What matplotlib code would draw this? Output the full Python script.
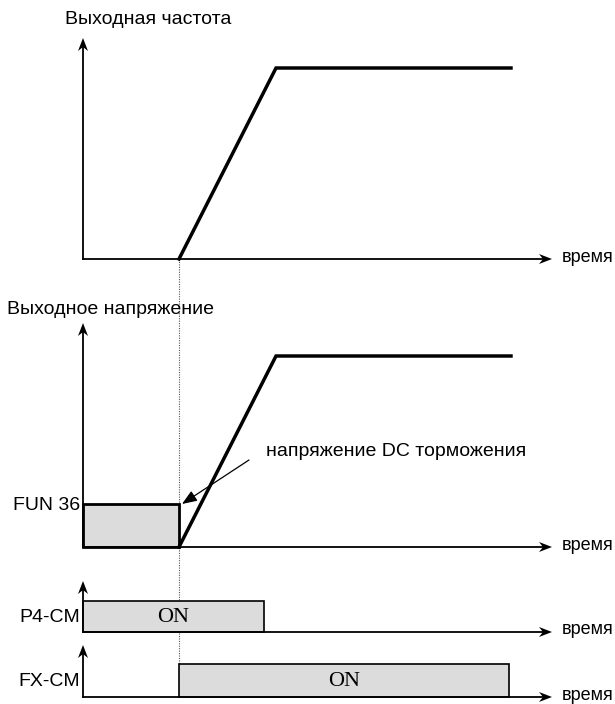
import matplotlib.pyplot as plt
from matplotlib.patches import Rectangle, Polygon

plt.rcParams['font.family'] = ['Liberation Sans', 'DejaVu Sans']

# time marks along every time axis
t_origin = 83
t_run = 179        # end of DC braking, start of acceleration
t_ramp_end = 276
t_stop = 511
t_p4_off = 264
t_fx_off = 509
t_axis_end = 552

# baselines and levels of the four traces
freq_base, freq_top, freq_axis_top = 259, 68, 38
volt_base, volt_top, volt_dc, volt_axis_top = 547, 356, 504, 323
p4_base, p4_high, p4_axis_top = 632, 601, 581
fx_base, fx_high, fx_axis_top = 697, 664, 645

titles = ['Выходная частота', 'Выходное напряжение']
title_pos = [(65, 20), (7, 310)]
signal_labels = ['FUN 36', 'P4-CM', 'FX-CM']
signal_label_y = [505, 617, 681]
time_label = 'время'
dc_note = 'напряжение DC торможения'
fill_gray = '#dcdcdc'

fig = plt.figure(figsize=(6.15, 7.04), dpi=100)
ax = fig.add_axes([0, 0, 1, 1])
ax.set_xlim(0, 615)
ax.set_ylim(704, 0)
ax.axis('off')


def head(x, y, direction, length=13, half=5, notch=4):
    # filled notched arrow head pointing right ('r') or up ('u')
    if direction == 'r':
        pts = [(x, y), (x - length, y - half), (x - length + notch, y), (x - length, y + half)]
    else:
        pts = [(x, y), (x - half, y + length), (x, y + length - notch), (x + half, y + length)]
    ax.add_patch(Polygon(pts, closed=True, color='black', lw=0, zorder=5))


def axes_pair(base, top):
    ax.plot([t_origin, t_origin], [base, top + 8], color='black', lw=1.3, zorder=4)
    head(t_origin, top, 'u')
    ax.plot([t_origin, t_axis_end - 8], [base, base], color='black', lw=1.3, zorder=4)
    head(t_axis_end, base, 'r')
    ax.text(t_axis_end + 10, base - 2, time_label, fontsize=13, ha='left', va='center')


# output frequency
axes_pair(freq_base, freq_axis_top)
ax.plot([t_run, t_ramp_end, t_stop], [freq_base, freq_top, freq_top],
        color='black', lw=2.5, solid_joinstyle='miter', zorder=4)

# output voltage with DC braking block
axes_pair(volt_base, volt_axis_top)
ax.add_patch(Rectangle((t_origin, volt_dc), t_run - t_origin, volt_base - volt_dc,
                       facecolor=fill_gray, edgecolor='black', lw=2, zorder=3))
ax.plot([t_run, t_ramp_end, t_stop], [volt_base, volt_top, volt_top],
        color='black', lw=2.5, solid_joinstyle='miter', zorder=4)

# P4-CM and FX-CM terminals
serif = ['Liberation Serif', 'DejaVu Serif']
axes_pair(p4_base, p4_axis_top)
ax.add_patch(Rectangle((t_origin, p4_high), t_p4_off - t_origin, p4_base - p4_high,
                       facecolor=fill_gray, edgecolor='black', lw=1.2, zorder=3))
ax.text((t_origin + t_p4_off) / 2, (p4_high + p4_base) / 2 + 1, 'ON',
        family=serif, fontsize=16, ha='center', va='center', zorder=6)

axes_pair(fx_base, fx_axis_top)
ax.add_patch(Rectangle((t_run, fx_high), t_fx_off - t_run, fx_base - fx_high,
                       facecolor=fill_gray, edgecolor='black', lw=1.2, zorder=3))
ax.text((t_run + t_fx_off) / 2, (fx_high + fx_base) / 2 + 1, 'ON',
        family=serif, fontsize=16, ha='center', va='center', zorder=6)

# dotted marker at the start of acceleration
ax.plot([t_run, t_run], [freq_base, fx_high], color='#555555', lw=0.8,
        linestyle=(0, (1, 1.2)), zorder=2)

# titles and signal names
for s, (x, y) in zip(titles, title_pos):
    ax.text(x, y, s, fontsize=14, ha='left', va='center')
for s, y in zip(signal_labels, signal_label_y):
    ax.text(80, y, s, fontsize=14, ha='right', va='center')

# note pointing at the DC braking level
ax.annotate('', xy=(182, 504), xytext=(249, 460),
            arrowprops=dict(arrowstyle='-|>,head_length=0.9,head_width=0.35',
                            color='black', lw=0.9, shrinkA=0, shrinkB=0), zorder=6)
ax.text(266, 452, dc_note, fontsize=14, ha='left', va='center')

fig.savefig('out.png', dpi=100)
